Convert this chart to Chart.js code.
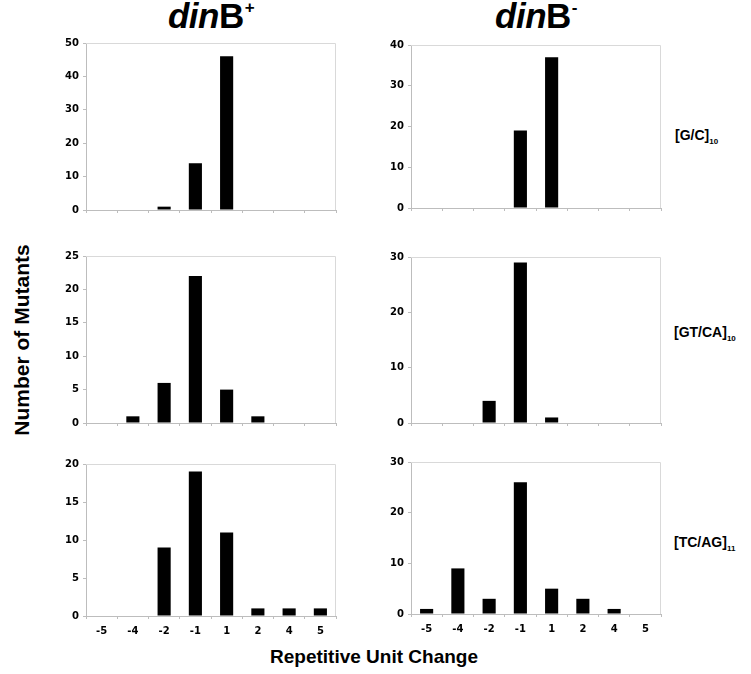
<!DOCTYPE html>
<html>
<head>
<meta charset="utf-8">
<script src="https://cdn.jsdelivr.net/npm/chart.js@4.4.1/dist/chart.umd.min.js"></script>
<style>
  html, body { margin: 0; padding: 0; background: #fff; }
  body { width: 751px; height: 674px; position: relative; overflow: hidden; font-family: "Liberation Sans", Arial, sans-serif; }
  .panel { position: absolute; }
  .head { position: absolute; font-weight: bold; font-size: 35px; color: #000; white-space: nowrap; transform: translateX(-50%); letter-spacing: -0.5px; }
  .head sup { font-size: 17px; vertical-align: 15px; line-height: 0; margin-left: 1px; }
  .rowlab { position: absolute; font-weight: bold; font-size: 14px; white-space: nowrap; color: #000; }
  .rowlab sub { font-size: 8px; vertical-align: -4px; }
  .ylab { position: absolute; left: 22px; top: 340px; transform: translate(-50%,-50%) rotate(-90deg); font-weight: bold; font-size: 21px; white-space: nowrap; }
  .xlab { position: absolute; left: 374px; top: 657px; transform: translate(-50%,-50%); font-weight: bold; font-size: 19px; white-space: nowrap; }
</style>
</head>
<body>
<div class="head" style="left:211px;top:-4px;"><i>din</i>B<sup>+</sup></div>
<div class="head" style="left:536px;top:-4px;"><i>din</i>B<sup>-</sup></div>
<div class="rowlab" style="left:675px;top:127px;">[G/C]<sub>10</sub></div>
<div class="rowlab" style="left:674px;top:324px;">[GT/CA]<sub>10</sub></div>
<div class="rowlab" style="left:674px;top:534px;">[TC/AG]<sub>11</sub></div>
<div class="ylab">Number of Mutants</div>
<div class="xlab">Repetitive Unit Change</div>

<script>
// ---- data ----
const categories = ["-5", "-4", "-2", "-1", "1", "2", "4", "5"];
const gcPlus   = [0, 0, 1, 14, 46, 0, 0, 0];
const gcMinus  = [0, 0, 0, 19, 37, 0, 0, 0];
const gtPlus   = [0, 1, 6, 22, 5, 1, 0, 0];
const gtMinus  = [0, 0, 4, 29, 1, 0, 0, 0];
const tcPlus   = [0, 0, 9, 19, 11, 1, 1, 1];
const tcMinus  = [1, 9, 3, 26, 5, 3, 1, 0];
const yMaxes   = [50, 40, 25, 30, 20, 30];
const ySteps   = [10, 10, 5, 10, 5, 10];

// ---- layout ----
const YAXIS_W = 32, XAXIS_H = 26, PAD_T = 7, PAD_R = 4;
const panels = [
  { data: gcPlus,  x0: 86,  x1: 336, y0: 40,  y1: 210, xlabels: false },
  { data: gcMinus, x0: 411, x1: 661, y0: 42,  y1: 208, xlabels: false },
  { data: gtPlus,  x0: 86,  x1: 336, y0: 253, y1: 423, xlabels: false },
  { data: gtMinus, x0: 411, x1: 661, y0: 254, y1: 423, xlabels: false },
  { data: tcPlus,  x0: 86,  x1: 336, y0: 461, y1: 616, xlabels: true },
  { data: tcMinus, x0: 411, x1: 661, y0: 459, y1: 614, xlabels: true }
];

const frame = {
  id: 'frame',
  beforeDatasetsDraw(chart) {
    const a = chart.chartArea, c = chart.ctx;
    c.save();
    c.strokeStyle = '#d9d9d9';
    c.lineWidth = 1;
    c.beginPath();
    c.moveTo(a.left, a.top + 0.5); c.lineTo(a.right - 0.5, a.top + 0.5); c.lineTo(a.right - 0.5, a.bottom);
    c.stroke();
    c.restore();
  }
};

const tickFont = { family: '"DejaVu Sans", Verdana, sans-serif', size: 10, weight: 'bold' };

panels.forEach((p, i) => {
  const w = (p.x1 - p.x0) + YAXIS_W + PAD_R;
  const h = (p.y1 - p.y0) + PAD_T + XAXIS_H;
  const div = document.createElement('div');
  div.className = 'panel';
  div.style.left = (p.x0 - YAXIS_W) + 'px';
  div.style.top = (p.y0 - PAD_T) + 'px';
  div.style.width = w + 'px';
  div.style.height = h + 'px';
  const cv = document.createElement('canvas');
  div.appendChild(cv);
  document.body.appendChild(div);
  new Chart(cv, {
    type: 'bar',
    data: {
      labels: categories,
      datasets: [{ data: p.data, backgroundColor: '#000', borderWidth: 0, barPercentage: 0.42, categoryPercentage: 1.0 }]
    },
    options: {
      responsive: true,
      maintainAspectRatio: false,
      animation: false,
      events: [],
      layout: { padding: { top: PAD_T, right: PAD_R, left: 0, bottom: 0 } },
      plugins: { legend: { display: false }, tooltip: { enabled: false } },
      scales: {
        x: {
          offset: true,
          afterFit(s) { s.height = XAXIS_H; },
          grid: { offset: true, drawOnChartArea: false, drawTicks: true, tickLength: 3, color: '#bdbdbd' },
          border: { color: '#bdbdbd', width: 1 },
          ticks: { display: p.xlabels, color: '#000', font: tickFont, padding: 6, maxRotation: 0 }
        },
        y: {
          min: 0, max: yMaxes[i],
          afterFit(s) { s.width = YAXIS_W; },
          grid: { drawOnChartArea: false, drawTicks: true, tickLength: 3, color: '#bdbdbd' },
          border: { color: '#bdbdbd', width: 1 },
          ticks: { stepSize: ySteps[i], color: '#000', font: tickFont, padding: 4 }
        }
      }
    },
    plugins: [frame]
  });
});
</script>
</body>
</html>
